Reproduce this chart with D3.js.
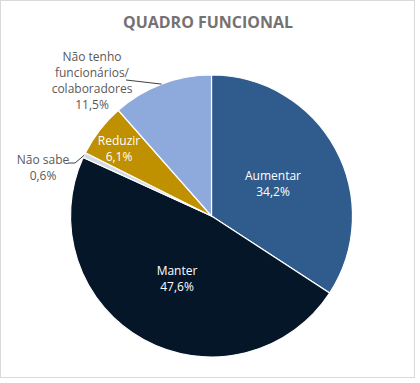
<!DOCTYPE html>
<html><head><meta charset="utf-8">
<script src="https://cdn.jsdelivr.net/npm/d3@7"></script>
<style>body{margin:0;background:#fff}svg{display:block}</style>
</head><body>
<script>
const categories = ["Aumentar","Manter","Não sabe","Reduzir","Não tenho funcionários/ colaboradores"];
const values = [34.2, 47.6, 0.6, 6.1, 11.5];
const valueLabels = ["34,2%","47,6%","0,6%","6,1%","11,5%"];
const colors = ["#2F5B8D","#061629","#D6DCE4","#BF9000","#8EA9DB"];

const W=420,H=383, cx=211.5, cy=216, R=141;
const svg=d3.select("body").append("svg").attr("width",W).attr("height",H);
svg.append("rect").attr("x",0.5).attr("y",0.5).attr("width",414).attr("height",377).attr("fill","#fff").attr("stroke","#D9D9D9");
svg.append("text").attr("x",208).attr("y",28).attr("text-anchor","middle")
  .attr("font-family","'Open Sans',sans-serif").attr("font-weight","bold").attr("font-size",16.5)
  .attr("fill","#767171").attr("textLength",170).attr("lengthAdjust","spacingAndGlyphs").text("QUADRO FUNCIONAL");

const data=categories.map((c,i)=>({c,v:values[i],l:valueLabels[i],col:colors[i]}));
const pie=d3.pie().value(d=>d.v).sort(null);
const arc=d3.arc().innerRadius(0).outerRadius(R);
const g=svg.append("g").attr("transform",`translate(${cx},${cy})`);
g.selectAll("path").data(pie(data)).join("path").attr("d",arc).attr("fill",d=>d.data.col).attr("stroke","#fff").attr("stroke-width",1.2);

const font="'Open Sans',sans-serif";
// label positions (absolute)
const lab=[
  {x:273,y:[180,196],fill:"#fff",lines:["Aumentar","34,2%"]},
  {x:177,y:[275,291],fill:"#fff",lines:["Manter","47,6%"]},
  {x:43,y:[164,180],fill:"#595959",lines:["Não sabe","0,6%"]},
  {x:119,y:[145,161],fill:"#fff",lines:["Reduzir","6,1%"]},
  {x:92,y:[61,77,93,109],fill:"#595959",lines:["Não tenho","funcionários/","colaboradores","11,5%"]}
];
lab.forEach((L,i)=>{
  const t=svg.append("text").attr("text-anchor","middle").attr("font-family",font).attr("font-size",12).attr("fill",L.fill);
  L.lines.forEach((s,j)=>t.append("tspan").attr("x",L.x).attr("y",L.y[j]).text(s));
});
// leader lines
const arcs=pie(data);
function edge(a){const m=(a.startAngle+a.endAngle)/2;return [cx+R*Math.sin(m),cy-R*Math.cos(m)];}
const e4=edge(arcs[4]);
svg.append("polyline").attr("points",`126,80 ${e4[0]},${e4[1]}`).attr("fill","none").attr("stroke","#404040").attr("stroke-width",1);
const e2=edge(arcs[2]);
svg.append("polyline").attr("points",`68,163 75,163 ${e2[0]},${e2[1]}`).attr("fill","none").attr("stroke","#404040").attr("stroke-width",1);
</script>
</body></html>
